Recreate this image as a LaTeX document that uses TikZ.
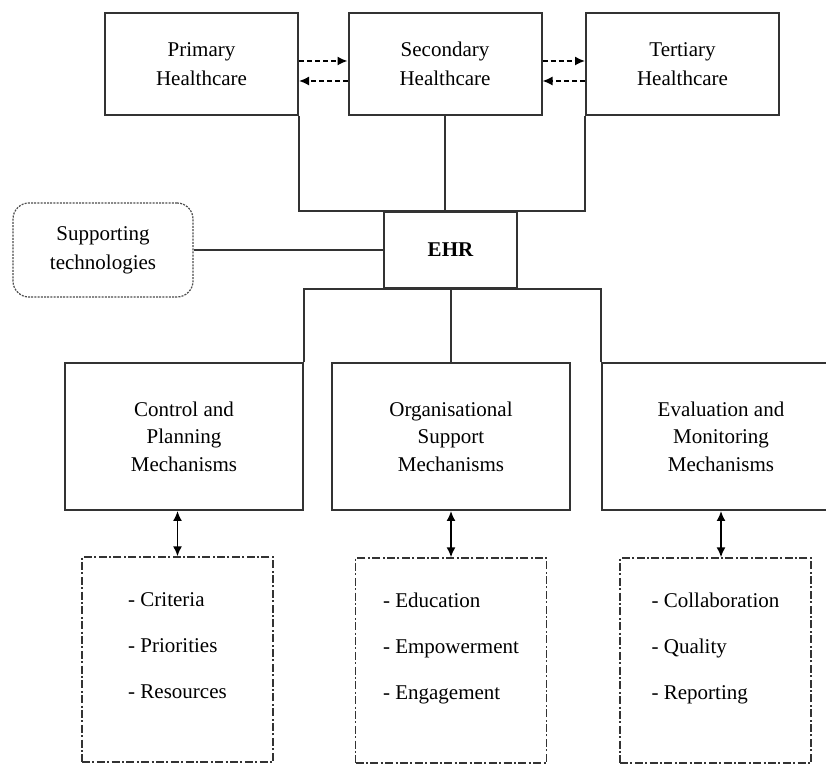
\documentclass[tikz,border=0pt]{standalone}
\usepackage{fontspec}
\setmainfont{Liberation Serif}
\usetikzlibrary{arrows.meta,positioning}
\tikzset{
  unit/.style={rectangle, draw=black!80, line width=1pt, align=center, inner sep=2pt,
    font=\fontsize{10.5}{14.5}\selectfont},
  carebox/.style={unit, minimum width=96.5pt, minimum height=51pt},
  mechbox/.style={unit, minimum width=119pt, minimum height=73.5pt, font=\fontsize{10.5}{13.75}\selectfont},
  ehrbox/.style={unit, minimum width=66.5pt, minimum height=38pt, font=\fontsize{10.5}{14.5}\selectfont\bfseries},
  techbox/.style={unit, draw=black!70, line width=0.6pt, dash pattern=on 1pt off 0.6pt,
    rounded corners=8pt, minimum width=90pt, minimum height=47pt},
  listbox/.style={unit, line width=0.7pt, dash pattern=on 4pt off 1.2pt on 1pt off 1.2pt,
    align=left, minimum width=95.5pt, minimum height=102.5pt, text depth=14pt,
    font=\fontsize{10.5}{23}\selectfont},
  link/.style={line width=1pt, draw=black!80},
  xfer/.style={-{Latex[length=5pt,width=4.5pt]}, line width=0.8pt, dash pattern=on 2.5pt off 1.5pt},
  feed/.style={{Latex[length=5pt,width=4.5pt]}-{Latex[length=5pt,width=4.5pt]}, line width=0.8pt},
}

\begin{document}
\begin{tikzpicture}[x=0.5pt, y=-0.5pt]
  \useasboundingbox (0,0) rectangle (826,764);
  % levels of care
  \node[carebox] (primary) at (201.5,64) {Primary\\Healthcare};
  \node[carebox] (secondary) at (445,64) {Secondary\\Healthcare};
  \node[carebox] (tertiary) at (682.5,64) {Tertiary\\Healthcare};
  \node[ehrbox] (ehr) at (450.5,250) {EHR};
  \node[techbox] (tech) at (103,250) {Supporting\\technologies};
  % mechanisms
  \node[mechbox] (control) at (184,436.5) {Control and\\Planning\\Mechanisms};
  \node[mechbox] (orgsup) at (451,436.5) {Organisational\\Support\\Mechanisms};
  \node[mechbox] (evalmon) at (721,436.5) {Evaluation and\\Monitoring\\Mechanisms};
  \node[listbox] (ctrllist) at (177.5,659.5) {- Criteria\\- Priorities\\- Resources};
  \node[listbox] (orglist) at (451,660.5) {- Education\\- Empowerment\\- Engagement};
  \node[listbox] (evallist) at (715.5,660.5) {- Collaboration\\- Quality\\- Reporting};

  \draw[xfer] ([yshift=1.5pt]primary.east) -- ([yshift=1.5pt]secondary.west);
  \draw[xfer] ([yshift=-8.5pt]secondary.west) -- ([yshift=-8.5pt]primary.east);
  \draw[xfer] ([yshift=1.5pt]secondary.east) -- ([yshift=1.5pt]tertiary.west);
  \draw[xfer] ([yshift=-8.5pt]tertiary.west) -- ([yshift=-8.5pt]secondary.east);

  \draw[link] (primary.south east) |- (tertiary.south west |- ehr.north) -- (tertiary.south west);
  \draw[link] (secondary.south) -- (secondary.south |- ehr.north);
  \draw[link] (tech) -- (ehr);
  \draw[link] (control.north east) |- (evalmon.north west |- ehr.south) -- (evalmon.north west);
  \draw[link] (ehr.south) -- (ehr.south |- orgsup.north);

  \draw[feed] (ctrllist.north |- control.south) -- (ctrllist.north);
  \draw[feed] (orgsup.south) -- (orgsup.south |- orglist.north);
  \draw[feed] (evalmon.south) -- (evalmon.south |- evallist.north);
\end{tikzpicture}
\end{document}
